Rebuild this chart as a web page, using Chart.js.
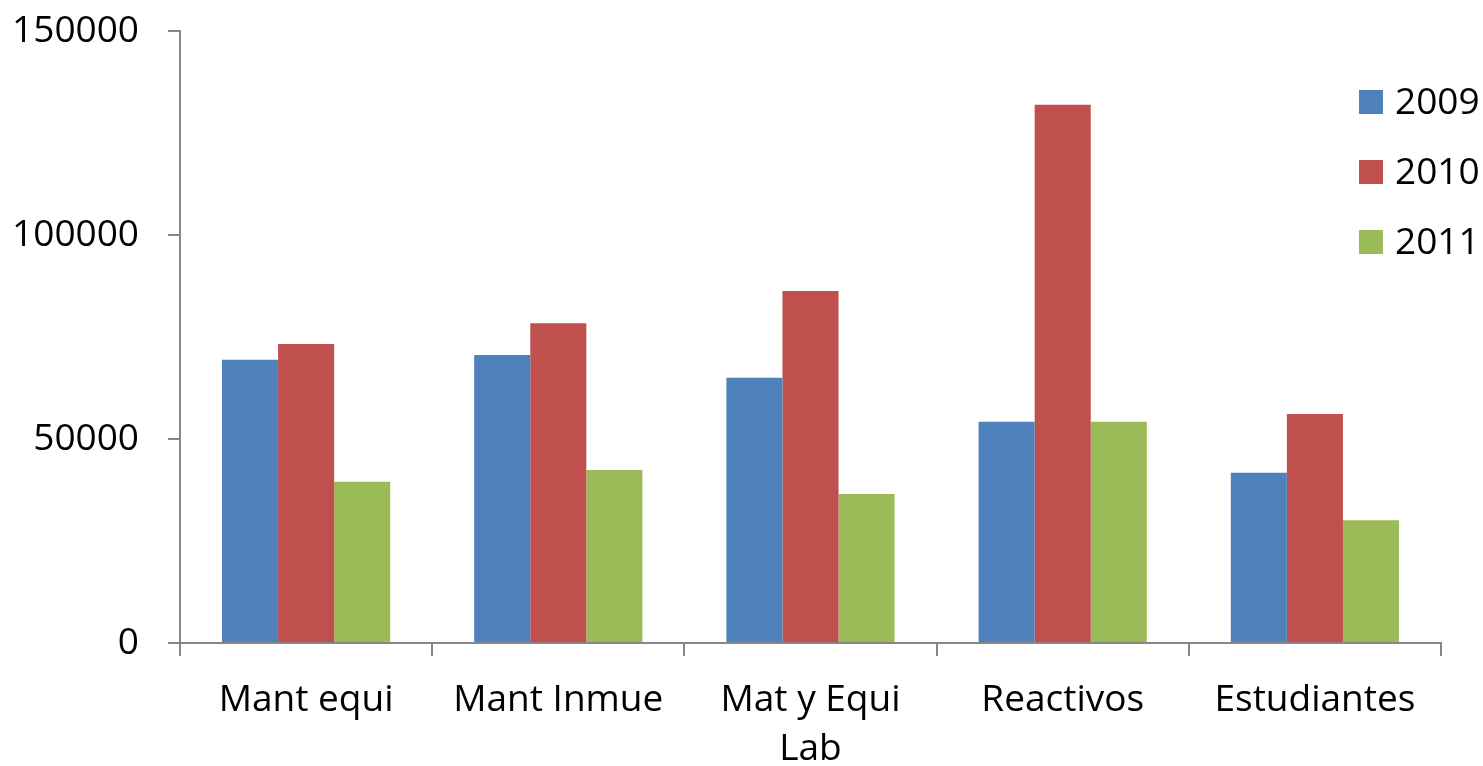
<!DOCTYPE html>
<html>
<head>
<meta charset="utf-8">
<script src="https://cdn.jsdelivr.net/npm/chart.js@4"></script>
<style>
    html, body { margin: 0; padding: 0; background: #fff; }
    #wrap { width: 1483px; height: 766px; }
</style>
</head>
<body>
<div id="wrap"><canvas id="chart"></canvas></div>
<script>
var categories = [['Mant equi'], ['Mant Inmue'], ['Mat y Equi', 'Lab'], ['Reactivos'], ['Estudiantes']];
var years = ['2009', '2010', '2011'];
var values2009 = [69400, 70600, 65000, 54200, 41700];
var values2010 = [73300, 78400, 86300, 131900, 56100];
var values2011 = [39500, 42400, 36500, 54200, 30100];
var yTicks = [0, 50000, 100000, 150000];
var colors = ['#4F81BD', '#C0504D', '#9BBB59'];

var FONT = "'Open Sans', 'Noto Sans', sans-serif";

/* legend drawn on the right, over the plot like the original */
var sideLegend = {
    id: 'sideLegend',
    afterDraw: function(chart) {
        var ctx = chart.ctx;
        ctx.save();
        ctx.font = '37px ' + FONT;
        ctx.textBaseline = 'middle';
        ctx.textAlign = 'left';
        chart.data.datasets.forEach(function(ds, i) {
            var y = 102 + i * 70;
            ctx.fillStyle = ds.backgroundColor;
            ctx.fillRect(1359, y - 12, 24, 24);
            ctx.fillStyle = '#000';
            ctx.fillText(ds.label, 1395, y + 1);
        });
        ctx.restore();
    }
};

var ctx = document.getElementById('chart');
var myChart = new Chart(ctx, {
    type: 'bar',
    data: {
        labels: categories,
        datasets: [
            { label: years[0], data: values2009, backgroundColor: colors[0] },
            { label: years[1], data: values2010, backgroundColor: colors[1] },
            { label: years[2], data: values2011, backgroundColor: colors[2] }
        ]
    },
    options: {
        responsive: true,
        maintainAspectRatio: false,
        animation: false,
        layout: { padding: { top: 31, right: 42, left: 0, bottom: 0 } },
        datasets: { bar: { barPercentage: 1, categoryPercentage: 0.667 } },
        plugins: {
            legend: { display: false },
            tooltip: { enabled: false }
        },
        scales: {
            x: {
                grid: { drawOnChartArea: false, drawTicks: true, tickLength: 13, color: '#868686', lineWidth: 2 },
                border: { color: '#868686', width: 2 },
                ticks: { color: '#000', font: { family: FONT, size: 37, lineHeight: 1.35 }, padding: 19, maxRotation: 0, autoSkip: false },
                afterFit: function(axis) { axis.height = 123; }
            },
            y: {
                min: 0,
                max: 150000,
                afterBuildTicks: function(axis) {
                    axis.ticks = yTicks.map(function(v) { return { value: v }; });
                },
                grid: { drawOnChartArea: false, drawTicks: true, tickLength: 12, color: '#868686', lineWidth: 2 },
                border: { color: '#868686', width: 2 },
                ticks: {
                    color: '#000',
                    font: { family: FONT, size: 37 },
                    padding: 29,
                    callback: function(v) { return String(v); }
                },
                afterFit: function(axis) {
                    axis.width = 180;
                    // tick padding would otherwise push the plot top down
                    axis.paddingTop = 0;
                    axis.paddingBottom = 0;
                }
            }
        }
    },
    plugins: [sideLegend]
});
</script>
</body>
</html>
